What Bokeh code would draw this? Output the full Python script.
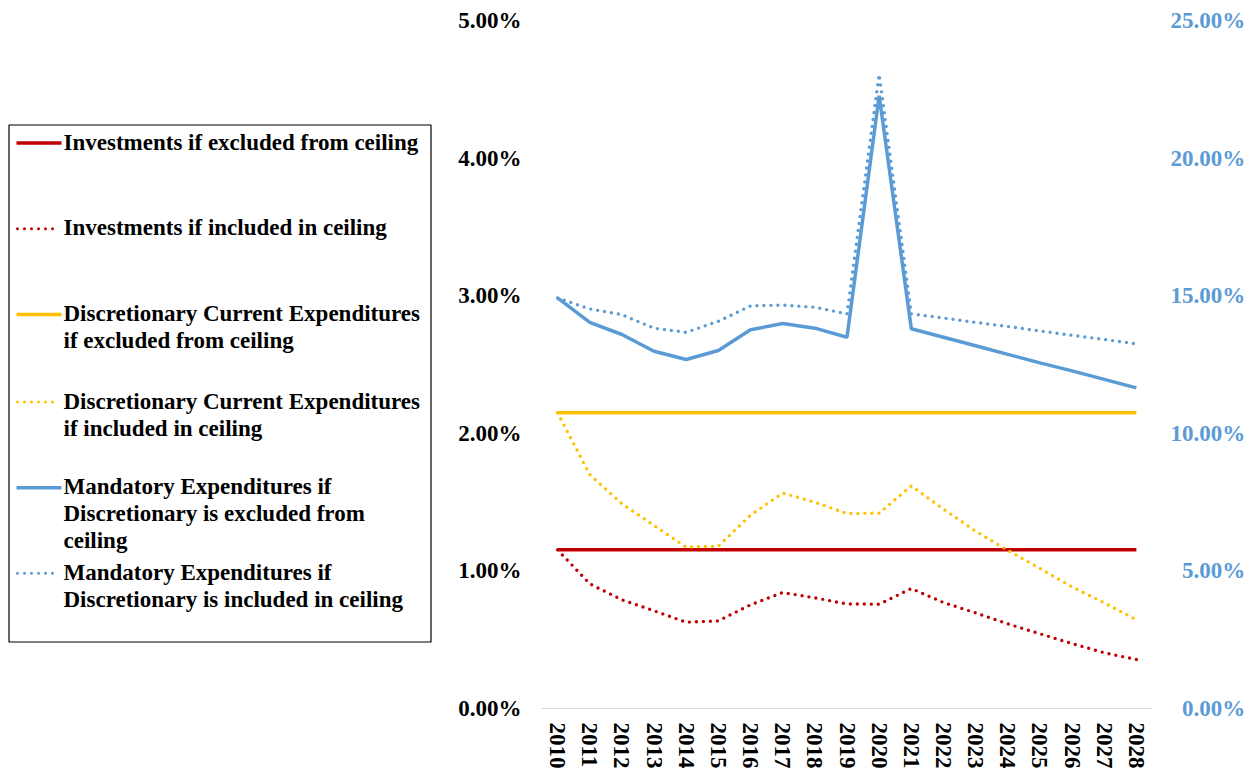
from bokeh.plotting import figure
from bokeh.models import (FactorRange, Range1d, LinearAxis, NumeralTickFormatter, FixedTicker,
                          ColumnDataSource, CustomJSTickFormatter)
from bokeh.layouts import row
from bokeh.embed import file_html
from bokeh.resources import INLINE
from bokeh.core.properties import value

# ---------------- data ----------------
years = ["2010", "2011", "2012", "2013", "2014", "2015", "2016", "2017", "2018", "2019",
         "2020", "2021", "2022", "2023", "2024", "2025", "2026", "2027", "2028"]

# left axis (share of GDP)
inv_excluded = [0.01153, 0.01153, 0.01153, 0.01153, 0.01153, 0.01153, 0.01153, 0.01153, 0.01153, 0.01153,
                0.01153, 0.01153, 0.01153, 0.01153, 0.01153, 0.01153, 0.01153, 0.01153, 0.01153]
inv_included = [0.01153, 0.00906, 0.00790, 0.00710, 0.00627, 0.00637, 0.00754, 0.00843, 0.00804, 0.00760,
                0.00758, 0.00872, 0.00770, 0.00695, 0.00615, 0.00543, 0.00472, 0.00405, 0.00356]
disc_excluded = [0.02149, 0.02149, 0.02149, 0.02149, 0.02149, 0.02149, 0.02149, 0.02149, 0.02149, 0.02149,
                 0.02149, 0.02149, 0.02149, 0.02149, 0.02149, 0.02149, 0.02149, 0.02149, 0.02149]
disc_included = [0.02149, 0.01700, 0.01488, 0.01330, 0.01172, 0.01180, 0.01405, 0.01566, 0.01499, 0.01417,
                 0.01419, 0.01618, 0.01449, 0.01289, 0.01150, 0.01017, 0.00884, 0.00768, 0.00645]
# right axis
mand_excluded = [0.1492, 0.1403, 0.1359, 0.1298, 0.1268, 0.1301, 0.1376, 0.1399, 0.1382, 0.1349,
                 0.2227, 0.1380, 0.1349, 0.1318, 0.1287, 0.1256, 0.1227, 0.1196, 0.1165]
mand_included = [0.1492, 0.1452, 0.1431, 0.1382, 0.1367, 0.1407, 0.1463, 0.1466, 0.1458, 0.1434,
                 0.2304, 0.1434, 0.1419, 0.1403, 0.1388, 0.1372, 0.1356, 0.1341, 0.1325]

left_ticks = [0.0, 0.01, 0.02, 0.03, 0.04, 0.05]
right_ticks = [0.0, 0.05, 0.10, 0.15, 0.20, 0.25]

labels = [
    "Investments if excluded from ceiling",
    "Investments if included in ceiling",
    "Discretionary Current Expenditures\nif excluded from ceiling",
    "Discretionary Current Expenditures\nif included in ceiling",
    "Mandatory Expenditures if\nDiscretionary is excluded from\nceiling",
    "Mandatory Expenditures if\nDiscretionary is included in ceiling",
]

RED = "#C00000"
YEL = "#FFC000"
BLUE = "#5B9BD5"
FONT = "Liberation Serif"
FS = "23px"
DOT = "0 7"

# ---------------- main chart ----------------
src = ColumnDataSource(dict(year=years, inv_ex=inv_excluded, inv_in=inv_included,
                            disc_ex=disc_excluded, disc_in=disc_included,
                            mand_ex=mand_excluded, mand_in=mand_included))

p = figure(x_range=FactorRange(*years), y_range=Range1d(0, 0.05),
           frame_width=611, frame_height=688,
           min_border_left=93, min_border_right=98, min_border_top=20, min_border_bottom=50,
           toolbar_location=None, output_backend="svg")
p.extra_y_ranges = {"right": Range1d(0, 0.25)}

p.line("year", "inv_ex", source=src, color=RED, line_width=3.5)
p.line("year", "inv_in", source=src, color=RED, line_width=3.4, line_dash=DOT, line_cap="round")
p.line("year", "disc_ex", source=src, color=YEL, line_width=3.5)
p.line("year", "disc_in", source=src, color=YEL, line_width=3.4, line_dash=DOT, line_cap="round")
p.line("year", "mand_ex", source=src, color=BLUE, line_width=3.5, y_range_name="right")
p.line("year", "mand_in", source=src, color=BLUE, line_width=3.4, line_dash=DOT, line_cap="round",
       y_range_name="right")

raxis = LinearAxis(y_range_name="right")
p.add_layout(raxis, "right")

for ax in [p.yaxis[0], raxis]:
    ax.axis_line_color = None
    ax.major_tick_line_color = None
    ax.minor_tick_line_color = None
    ax.major_label_text_font = FONT
    ax.major_label_text_font_style = "bold"
    ax.major_label_text_font_size = FS

p.yaxis[0].formatter = NumeralTickFormatter(format="0.00%")
p.yaxis[0].ticker = FixedTicker(ticks=left_ticks)
p.yaxis[0].major_label_text_color = "black"
p.yaxis[0].major_label_standoff = 14

# right-axis labels are right-aligned: pad short labels with a figure space (digit width)
raxis.formatter = CustomJSTickFormatter(code="""
    const s = (tick * 100).toFixed(2) + '%';
    return s.length < 6 ? '\\u2007' + s : s;
""")
raxis.ticker = FixedTicker(ticks=right_ticks)
raxis.major_label_text_color = BLUE
raxis.major_label_standoff = 12

xa = p.xaxis[0]
xa.axis_line_color = "#D9D9D9"
xa.axis_line_width = 1
xa.major_tick_line_color = None
xa.minor_tick_line_color = None
xa.major_label_orientation = "vertical"
xa.major_label_text_font = FONT
xa.major_label_text_font_style = "bold"
xa.major_label_text_font_size = FS
xa.major_label_text_color = "black"
xa.major_label_standoff = 8

p.xgrid.visible = False
p.ygrid.visible = False
p.outline_line_color = None

# ---------------- legend panel (frame aligned with the chart frame) ----------------
LW = 448
lf = figure(frame_width=LW, frame_height=688, x_range=Range1d(0, LW), y_range=Range1d(708, 20),
            x_axis_location=None, y_axis_location=None,
            min_border_left=0, min_border_right=0, min_border_top=20, min_border_bottom=50,
            toolbar_location=None, output_backend="svg")
lf.grid.visible = False
lf.outline_line_color = None

lf.quad(left=[8.5], right=[430.5], top=[124.5], bottom=[641.5], fill_color=None,
        line_color="black", line_width=1.2)

sample_y = [142.5, 228.3, 314, 401.5, 487.3, 572.7]
colors = [RED, RED, YEL, YEL, BLUE, BLUE]
dashed = [False, True, False, True, False, True]
for yy, c, d in zip(sample_y, colors, dashed):
    if d:
        lf.line([17, 54], [yy, yy], color=c, line_width=3, line_dash=DOT, line_cap="round")
    else:
        lf.line([16, 61], [yy, yy], color=c, line_width=3.5)

lf.text(x=[63] * 6, y=[yy - 13.5 for yy in sample_y], text=labels,
        text_font=value(FONT), text_font_style="bold", text_font_size=FS,
        text_color="black", text_baseline="top", text_align="left", text_line_height=1.08)

layout = row(lf, p)
open("out.html", "w").write(file_html(layout, INLINE))
